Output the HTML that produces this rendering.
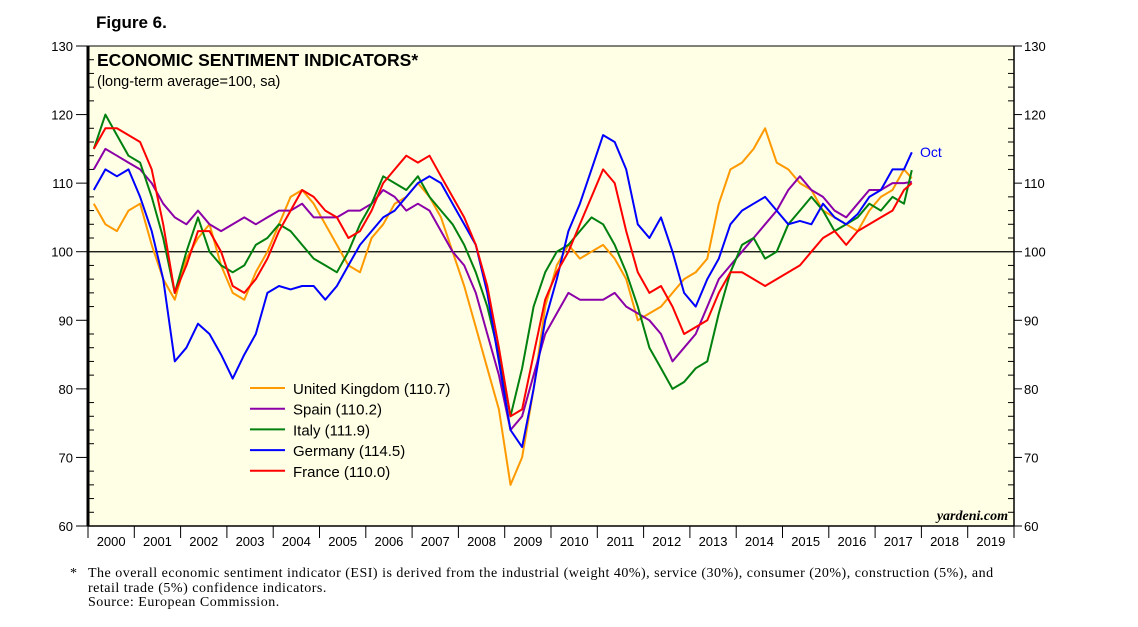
<!DOCTYPE html>
<html><head><meta charset="utf-8"><style>
body{margin:0;background:#fff;width:1138px;height:627px;overflow:hidden;font-family:"Liberation Sans",sans-serif}
svg{position:absolute;left:0;top:0}
.note{position:absolute;left:70px;top:567px;font-family:"Liberation Serif",serif;font-size:14px;letter-spacing:0.5px;line-height:14.5px;color:#000;white-space:nowrap}
</style></head><body>
<svg id="c" width="1138" height="627"></svg>
<div class="note"><span style="display:inline-block;width:18px">*</span>The overall economic sentiment indicator (ESI) is derived from the industrial (weight 40%), service (30%), consumer (20%), construction (5%), and<br><span style="display:inline-block;width:18px"></span>retail trade (5%) confidence indicators.<br><span style="display:inline-block;width:18px"></span>Source: European Commission.</div>
<script>
const years=[2000,2001,2002,2003,2004,2005,2006,2007,2008,2009,2010,2011,2012,2013,2014,2015,2016,2017,2018,2019];
const yTicks=[60,70,80,90,100,110,120,130];
const seriesNames=["United Kingdom (110.7)","Spain (110.2)","Italy (111.9)","Germany (114.5)","France (110.0)"];
const seriesColors=["#ff9900","#8b00a8","#00800f","#0000ff","#ff0000"];
const uk=[107,104,103,106,107,101,96,93,99,102,104,98,94,93,97,100,104,108,109,107,104,101,98,97,102,104,107,108,110,108,105,100,95,89,83,77,66,70,80,92,98,101,99,100,101,99,96,90,91,92,94,96,97,99,107,112,113,115,118,113,112,110,109,106,105,104,103,106,108,109,112,110.7];
const spain=[112,115,114,113,112,110,107,105,104,106,104,103,104,105,104,105,106,106,107,105,105,105,106,106,107,109,108,106,107,106,103,100,98,94,88,82,74,76,82,88,91,94,93,93,93,94,92,91,90,88,84,86,88,92,96,98,100,102,104,106,109,111,109,108,106,105,107,109,109,110,110,110.2];
const italy=[115,120,117,114,113,108,102,94,100,105,100,98,97,98,101,102,104,103,101,99,98,97,100,104,107,111,110,109,111,108,106,104,101,97,92,85,76,83,92,97,100,101,103,105,104,101,97,92,86,83,80,81,83,84,91,97,101,102,99,100,104,106,108,106,103,104,105,107,106,108,107,111.9];
const germany=[109,112,111,112,108,103,96,84,86,89.5,88,85,81.5,85,88,94,95,94.5,95,95,93,95,98,101,103,105,106,108,110,111,110,107,104,101,94,84,74,71.5,80,90,96,103,107,112,117,116,112,104,102,105,100,94,92,96,99,104,106,107,108,106,104,104.5,104,107,105,104,105.5,108,109,112,112,114.5];
const france=[115,118,118,117,116,112,104,94,98,103,103,100,95,94,96,99,103,106,109,108,106,105,102,103,106,110,112,114,113,114,111,108,105,101,95,86,76,77,85,93,97,100,104,108,112,110,103,97,94,95,92,88,89,90,94,97,97,96,95,96,97,98,100,102,103,101,103,104,105,106,109,110.0];
const allSeries=[uk,spain,italy,germany,france];
const NS="http://www.w3.org/2000/svg",svg=document.getElementById('c');
const X0=88,X1=1014,Y0=46,Y1=526;
const xs=t=>X0+(t-2000)/20*(X1-X0);
const ys=v=>Y0+(130-v)/70*(Y1-Y0);
function mk(tag,a,p){const e=document.createElementNS(NS,tag);for(const k in a)e.setAttribute(k,a[k]);(p||svg).appendChild(e);return e;}
const bg=mk('rect',{x:X0,y:Y0,width:X1-X0,height:Y1-Y0,fill:'#ffffe5',stroke:'#000','stroke-width':1});


let t=mk('text',{x:96,y:28,'font-size':17,'font-weight':'bold'});t.textContent='Figure 6.';


t=mk('text',{x:97,y:66,'font-size':17.5,'font-weight':'bold'});t.textContent='ECONOMIC SENTIMENT INDICATORS*';


t=mk('text',{x:97,y:86,'font-size':14.5});t.textContent='(long-term average=100, sa)';


mk('line',{x1:X0,y1:Y0,x2:X0,y2:Y1,stroke:'#000','stroke-width':3});
mk('line',{x1:X1,y1:Y0,x2:X1,y2:Y1,stroke:'#000','stroke-width':1.5});
mk('line',{x1:X0,y1:Y1,x2:X1,y2:Y1,stroke:'#000','stroke-width':1.5});
const ref=mk('line',{x1:X0,y1:ys(100),x2:X1,y2:ys(100),stroke:'#000','stroke-width':1.2});


yTicks.forEach(v=>{const y=ys(v);
 mk('line',{x1:X0-12,y1:y,x2:X0,y2:y,stroke:'#000'});mk('line',{x1:X1,y1:y,x2:X1+8,y2:y,stroke:'#000'});
 for(let k=1;k<5&&v<130;k++){const yy=ys(v+2*k);mk('line',{x1:X0,y1:yy,x2:X0+6,y2:yy,stroke:'#000'});mk('line',{x1:X1-6,y1:yy,x2:X1,y2:yy,stroke:'#000'});}
 let a=mk('text',{x:73,y:y+5,'font-size':13,'text-anchor':'end'});a.textContent=v;
 
 
 let b=mk('text',{x:1024,y:y+5,'font-size':13});b.textContent=v;
 
 });
years.forEach((yr,i)=>{const xa=xs(yr),xb=xs(yr+1);
 mk('line',{x1:xb,y1:Y1,x2:xb,y2:Y1+12,stroke:'#000'});
 if(i===0)mk('line',{x1:xa,y1:Y1,x2:xa,y2:Y1+12,stroke:'#000'});
 let l=mk('text',{x:(xa+xb)/2,y:546,'font-size':13,'text-anchor':'middle'});l.textContent=yr;
 
 });
allSeries.forEach((d,s)=>{
 const pts=d.map((v,i)=>{let tt=2000+(i*3+1.5)/12;if(i===d.length-1)tt=2017+9.5/12;return xs(tt).toFixed(1)+','+ys(v).toFixed(1);}).join(' ');
 const p=mk('polyline',{points:pts,fill:'none',stroke:seriesColors[s],'stroke-width':2,'stroke-linejoin':'round'});
 
 });
t=mk('text',{x:920,y:157,'font-size':14,fill:'#0000ff'});t.textContent='Oct';


seriesNames.forEach((n,i)=>{const y=388+i*20.7;
 mk('line',{x1:250,y1:y,x2:285,y2:y,stroke:seriesColors[i],'stroke-width':2});
 const e=mk('text',{x:293,y:y+6,'font-size':15});e.textContent=n;
 
 });
t=mk('text',{x:1008,y:520,'font-size':14,'font-weight':'bold','font-style':'italic','text-anchor':'end','font-family':'Liberation Serif, serif'});t.textContent='yardeni.com';


</script>
</body></html>
